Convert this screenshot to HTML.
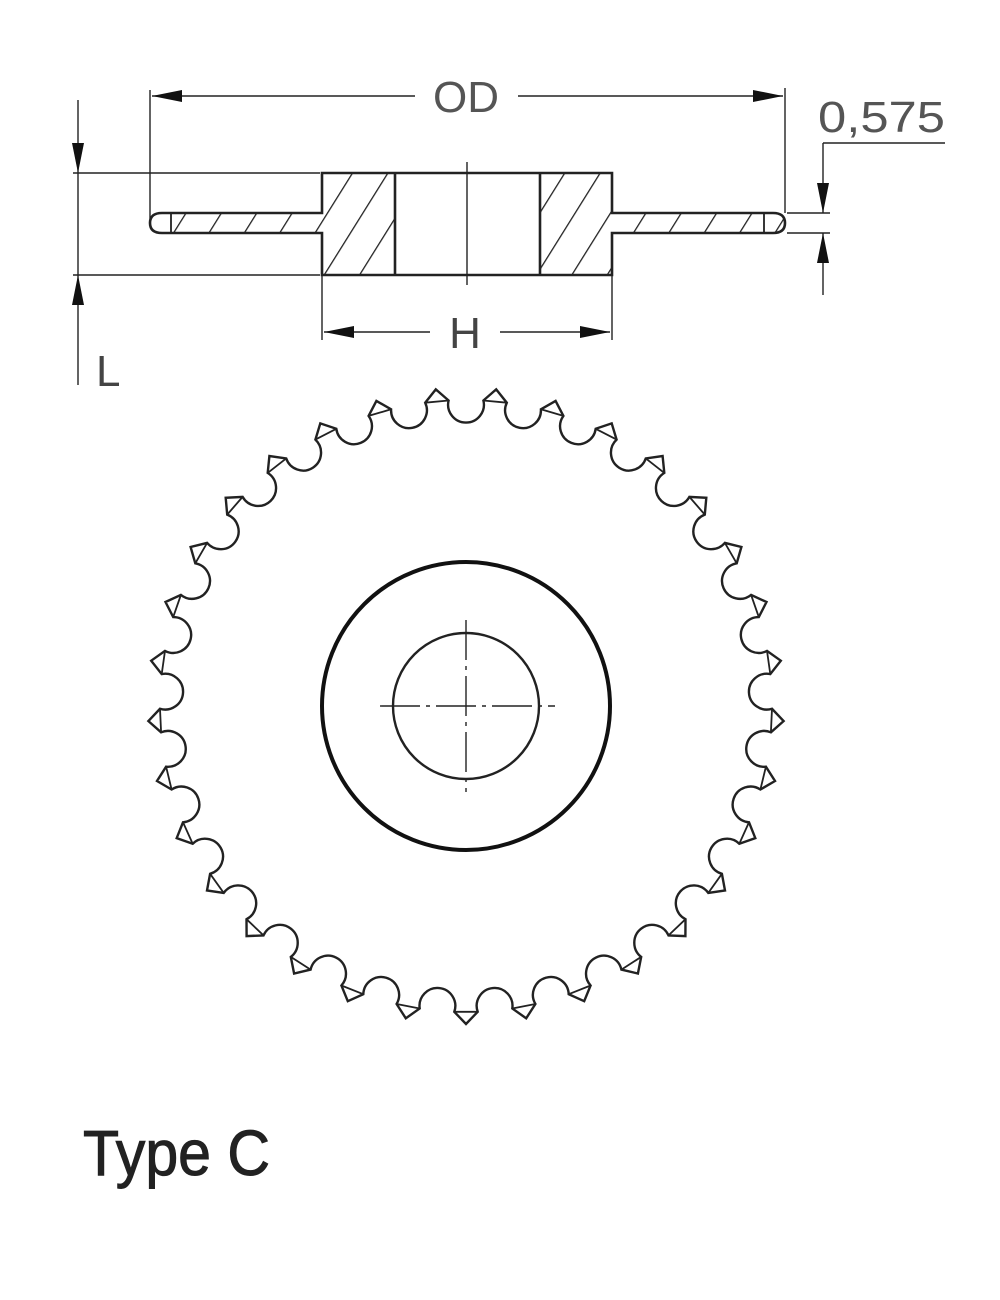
<!DOCTYPE html>
<html><head><meta charset="utf-8"><style>html,body{margin:0;padding:0;background:#fff}svg{display:block}</style></head>
<body>
<svg id="s" width="1000" height="1300" viewBox="0 0 1000 1300" xmlns="http://www.w3.org/2000/svg">
<defs>
<pattern id="h" patternUnits="userSpaceOnUse" width="30" height="30" patternTransform="rotate(32)">
<line x1="0" y1="0" x2="0" y2="30" stroke="#222" stroke-width="2.6"/>
</pattern>
<marker id="b" viewBox="0 0 30 12" refX="30" refY="6" markerWidth="30" markerHeight="12" markerUnits="userSpaceOnUse" orient="auto-start-reverse"><path d="M0,0 L30,6 L0,12z" fill="#111"/></marker>
</defs>
<g fill="none" stroke="#222" stroke-width="1.4">
<line x1="150" y1="90" x2="150" y2="225"/>
<line x1="785" y1="88" x2="785" y2="213"/>
<line x1="152" y1="96" x2="415" y2="96" marker-start="url(#b)"/>
<line x1="518" y1="96" x2="783" y2="96" marker-end="url(#b)"/>
<line x1="78" y1="100" x2="78" y2="173" marker-end="url(#b)"/>
<line x1="78" y1="385" x2="78" y2="275" marker-end="url(#b)"/>
<line x1="78" y1="173" x2="78" y2="275"/>
<line x1="73" y1="173" x2="320" y2="173"/>
<line x1="73" y1="275" x2="320" y2="275"/>
<line x1="322" y1="275" x2="322" y2="340"/>
<line x1="612" y1="275" x2="612" y2="340"/>
<line x1="324" y1="332" x2="430" y2="332" marker-start="url(#b)"/>
<line x1="500" y1="332" x2="610" y2="332" marker-end="url(#b)"/>
<line x1="787" y1="213" x2="830" y2="213"/>
<line x1="787" y1="233" x2="830" y2="233"/>
<line x1="823" y1="143" x2="945" y2="143"/>
<line x1="823" y1="143" x2="823" y2="213" marker-end="url(#b)"/>
<line x1="823" y1="295" x2="823" y2="233" marker-end="url(#b)"/>
</g>
<path d="M322,173 H395 V275 H322 Z M540,173 H612 V275 H540 Z M162,213 H322 V233 H162 Q150,233 150,223 Q150,213 162,213 Z M612,213 H773 Q785,213 785,223 Q785,233 773,233 H612 Z" fill="url(#h)" stroke="none"/>
<g fill="none" stroke="#222" stroke-width="2.6">
<path d="M322,173 H612 V213 H773 Q785,213 785,223 Q785,233 773,233 H612 V275 H322 V233 H162 Q150,233 150,223 Q150,213 162,213 H322 Z"/>
<line x1="395" y1="173" x2="395" y2="275"/>
<line x1="540" y1="173" x2="540" y2="275"/>
<line x1="171" y1="213" x2="171" y2="233" stroke-width="1.8"/>
<line x1="764" y1="213" x2="764" y2="233" stroke-width="1.8"/>
</g>
<line x1="467" y1="162" x2="467" y2="285" stroke="#222" stroke-width="1.4"/>
<g font-family="Liberation Sans, sans-serif" fill="#555" font-size="44">
<text x="466" y="112" text-anchor="middle">OD</text>
<text x="465" y="348" text-anchor="middle" fill="#444">H</text>
<text x="96" y="386" fill="#444">L</text>
<text x="818" y="132" textLength="127" lengthAdjust="spacingAndGlyphs">0,575</text>
</g>
<path id="sp" fill="none" stroke="#222" stroke-width="2.4"/>
<path id="ch" fill="none" stroke="#222" stroke-width="1.8"/>
<circle cx="466" cy="706" r="144" fill="none" stroke="#111" stroke-width="4"/>
<circle cx="466" cy="706" r="73" fill="none" stroke="#222" stroke-width="2.4"/>
<g stroke="#222" stroke-width="1.4" stroke-dasharray="40,6,4,6">
<line x1="380" y1="706" x2="555" y2="706"/>
<line x1="466" y1="620" x2="466" y2="792"/>
</g>
<text x="83" y="1175" font-family="Liberation Sans, sans-serif" font-size="64" fill="#222" stroke="#222" stroke-width="1" textLength="187" lengthAdjust="spacingAndGlyphs">Type C</text>
</svg>
<script>
(function(){
var cx=466,cy=706,N=33,Rt=318,Rb=306,d=2.2*Math.PI/180;
function p(r,a){return [(cx+r*Math.cos(a)).toFixed(1),(cy+r*Math.sin(a)).toFixed(1)];}
var step=2*Math.PI/N,s="",c="";
for(var i=0;i<N;i++){
 var a=Math.PI/2+i*step;
 var b1=p(Rb,a-d),t=p(Rt,a),b2=p(Rb,a+d);
 if(i==0) s+="M"+b1.join(",");
 s+=" L"+t.join(",")+" L"+b2.join(",");
 c+="M"+b1.join(",")+" L"+b2.join(",");
 var e=p(Rb,a+step-d);
 var dx=e[0]-b2[0],dy=e[1]-b2[1],r=(Math.sqrt(dx*dx+dy*dy)/2*1.03).toFixed(1);
 s+=" A"+r+","+r+" 0 1 0 "+e.join(",");
}
s+="Z";
document.getElementById("sp").setAttribute("d",s);
document.getElementById("ch").setAttribute("d",c);
})();
</script>
</body></html>
